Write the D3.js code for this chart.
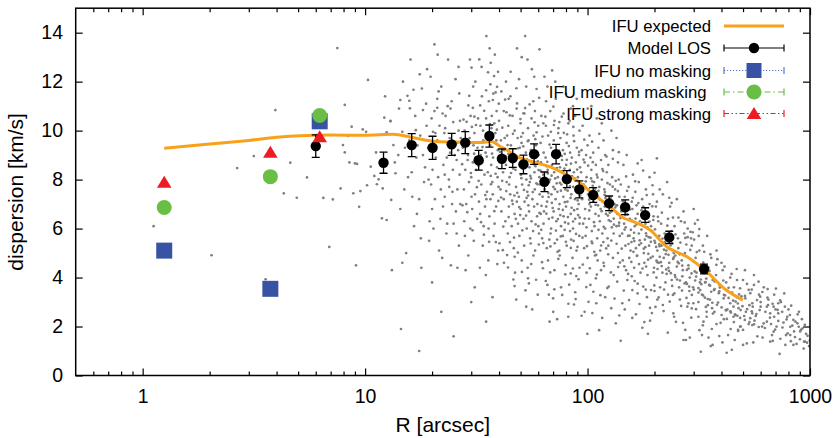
<!DOCTYPE html>
<html>
<head>
<meta charset="utf-8">
<script src="https://cdn.jsdelivr.net/npm/d3@7"></script>
<style>
  body { margin: 0; background: #fff; }
  text { font-family: "Liberation Sans", Arial, Helvetica, sans-serif; }
</style>
</head>
<body>
<div id="chart"></div>
<script>
var svgWidth = 839;
var svgHeight = 438;

var margin = { top: 8.2, right: 29, bottom: 62.5, left: 75.7 };
var width = svgWidth - margin.left - margin.right;
var height = svgHeight - margin.top - margin.bottom;

// IFU expected curve
var expectedR = [1.25, 2, 3, 4.15, 5.1, 7, 10, 13.4, 15.9, 18.5, 21.7, 27, 33, 37, 40.4, 43.4, 48, 56.9, 70, 80.7, 90, 105, 126, 146, 161, 191, 227, 280, 343, 420, 499];
var expectedS = [9.28, 9.45, 9.6, 9.74, 9.79, 9.82, 9.81, 9.85, 9.74, 9.62, 9.55, 9.53, 9.52, 9.56, 9.36, 9.21, 8.95, 8.72, 8.47, 8.19, 7.95, 7.44, 6.89, 6.42, 6.28, 5.94, 5.26, 4.85, 4.24, 3.49, 3.08];

// Model LOS points with errors
var losR = [6.0, 12.1, 16.2, 20.1, 24.5, 28.2, 32.4, 36.2, 41.2, 46.1, 51.5, 57.5, 64, 72.2, 80.7, 91.8, 106, 125, 147.6, 181.5, 233, 334];
var losS = [9.37, 8.69, 9.41, 9.30, 9.44, 9.51, 8.79, 9.78, 8.85, 8.88, 8.62, 9.04, 7.91, 9.04, 8.02, 7.60, 7.37, 7.03, 6.87, 6.55, 5.64, 4.35];
var losErr = [0.46, 0.43, 0.47, 0.47, 0.45, 0.45, 0.4, 0.45, 0.4, 0.38, 0.38, 0.42, 0.4, 0.4, 0.35, 0.35, 0.3, 0.3, 0.3, 0.3, 0.25, 0.2];

// IFU bins
var ifuR = [1.25, 3.75, 6.25];
var ifuNone = [5.10, 3.54, 10.38];
var ifuMedium = [6.86, 8.12, 10.62];
var ifuStrong = [7.89, 9.12, 9.75];

var xTicks = [1, 10, 100, 1000];
var xMinor = [0.6, 0.7, 0.8, 0.9, 2, 3, 4, 5, 6, 7, 8, 9, 20, 30, 40, 50, 60, 70, 80, 90, 200, 300, 400, 500, 600, 700, 800, 900];
var yTicks = [0, 2, 4, 6, 8, 10, 12, 14];

var legendLabels = ["IFU expected", "Model LOS", "IFU no masking", "IFU medium masking", "IFU strong masking"];

// individual stars (R, dispersion)
var stars = [
  [1.12,6.1],[2.04,4.91],[2.66,8.47],[3.16,8.96],[3.57,3.93],[3.95,10.84],[4.61,8.69],[5.48,8.09],[4.31,7.44],[4.93,7.26],
  [6.49,7.25],[7.16,7.19],[7.76,7.64],[8.85,7.44],[8.5,8.7],[9.0,8.66],[8.1,9.11],[6.9,5.25],[9.4,6.89],[8.7,10.16],
  [9.76,10.05],[10.1,9.95],[8.4,9.79],[7.95,9.41],[9.2,8.64],[9.52,7.53],[10.2,7.77],[11.3,7.81],[12.0,7.64],[10.6,8.53],
  [11.0,8.15],[11.5,8.01],[11.2,9.11],[7.5,13.37],[10.3,12.07],[12.3,11.4],[8.1,11.05],[9.1,4.5],[14.7,4.6],
  [14.5,1.9],[17.5,1.0],[22,2.6],[25,1.6],[30,3.0],[35,2.2],[20,3.8],[26,4.4],
  // R 12-18
  [12.2,10.53],[13.0,10.40],[14.7,9.95],[12.5,9.93],[13.0,10.38],[13.4,9.41],[14.1,9.0],[13.7,8.26],[13.1,7.17],[11.9,6.42],
  [12.5,6.35],[13.6,8.7],[15.5,11.42],[14.4,11.25],[15.8,11.22],[15.9,10.91],[16.5,11.67],[18.0,11.72],[18.2,10.84],[16.9,10.02],
  [15.8,9.6],[17.0,8.9],[16.2,8.3],[15.0,7.6],[17.5,7.2],[14.4,6.8],[16.6,6.1],[17.8,5.6],[15.3,5.0],[13.2,4.3],
  [17.2,9.4],[16.8,10.6],[14.8,12.0],[17.6,12.3],
  [14.2,10.9],[15.1,9.3],[15.6,8.1],[16.3,7.3],[17.1,6.6],[17.7,9.8],[18.4,7.9],[18.8,11.1],[19.5,6.3],[20.1,8.4],
  [20.7,9.9],[21.5,5.1],[22.3,10.7],[22.8,8.2],[23.4,6.2],[24.2,10.9],[24.7,7.5],[25.3,9.0],[25.8,5.8],[26.3,12.6],
  [26.9,9.7],[19.7,12.2],[16.0,12.9],[21.2,13.1],[17.9,4.4],
  // R 18-27
  [20.2,9.95],[24.9,10.35],[26.7,10.40],[20.5,13.52],[19.0,12.51],[21.1,11.30],[21.1,10.93],[26.5,11.52],[22.0,11.8],[23.5,11.0],
  [25.5,12.1],[20.5,10.8],[21.6,10.2],[23.0,10.6],[24.0,9.7],[19.2,9.3],[20.8,8.9],[22.5,8.6],[25.8,8.8],[18.6,8.5],
  [21.3,8.1],[23.8,8.0],[26.0,7.6],[19.8,7.8],[22.8,7.3],[24.6,7.0],[20.0,6.8],[21.8,6.4],[25.0,6.2],[23.2,5.8],
  [19.4,5.5],[26.4,5.3],[22.2,4.8],[24.3,4.5],[26.2,9.2],[22.7,9.9],[23.6,12.9],[18.9,10.2],[20.6,7.2],[24.8,8.4],
  [21.1,9.6],[19.9,10.5],[23.9,7.7],[25.6,6.7],[22.4,6.9],[26.8,7.0],[20.3,6.0],[24.1,9.1],[26.3,10.0],[21.9,7.6],
  [19.3,8.0],[23.3,8.9],[25.9,9.5],[22.9,10.1],[18.2,9.0],[21.4,11.6],[24.5,11.2],[26.6,8.2],
  // R 27-40
  [35.1,13.86],[36.3,13.36],[36.7,12.77],[30.1,12.57],[38.0,12.23],[39.2,11.79],[36.6,11.89],[35.0,11.65],[38.6,11.56],[37.5,11.25],
  [29.1,11.03],[30.5,10.93],[32.9,11.03],[28.6,10.36],[31.0,10.57],
  [28,10.0],[29.5,9.7],[31,9.9],[33,10.2],[35,10.5],[37,10.1],[39,10.8],[36,11.2],[27.5,9.3],[29,9.0],
  [30.5,8.7],[32,9.3],[34,9.6],[36.5,9.4],[38.5,9.9],[39.5,9.2],[28.2,8.4],[30,8.1],[31.6,8.4],[33.6,8.7],
  [35.6,8.3],[37.6,8.9],[39.2,8.5],[27.8,7.6],[29.3,7.9],[31.2,7.4],[33.3,7.8],[35.3,7.5],[37.3,7.9],[39.8,7.7],
  [28.5,7.0],[30.3,6.8],[32.5,7.1],[34.6,6.9],[36.6,7.2],[38.8,6.9],[27.9,6.3],[29.7,6.0],[31.9,6.4],[34.1,6.1],
  [36.2,6.5],[38.2,6.2],[30.8,5.5],[33.8,5.3],[37.8,5.7],[29.1,4.9],[35.8,4.7],[39.6,5.1],[32.8,4.4],[28.9,8.8],
  [30.7,9.4],[32.2,10.5],[34.8,9.1],[36.9,8.6],[38.9,9.6],[29.8,10.6],[33.9,10.0],[37.1,10.6],[39.9,11.1],[31.3,12.0],
  [35.1,7.2],[37.5,7.4],[39.4,8.1],[28.1,5.7],[33.1,9.0],[30.1,7.3],[36.3,9.9],[38.1,10.3],[34.4,8.2],[32.9,6.6],
  [31.4,8.9],[35.9,6.0],
  [27.3,8.63],[27.7,10.45],[28.4,9.52],[28.8,6.67],[29.4,11.42],[29.9,8.27],[30.4,5.93],[30.9,9.06],[31.5,10.23],[31.8,7.69],
  [32.3,8.57],[32.6,12.91],[33.2,6.26],[33.7,9.33],[34.3,10.81],[34.7,7.37],[35.2,8.94],[35.7,12.38],[36.1,5.46],[36.4,10.27],
  [36.8,7.81],[37.2,9.06],[37.7,11.51],[38.1,6.71],[38.6,8.24],[39.1,10.04],[39.7,7.13],[28.3,4.3],[31.1,3.6],[34.9,4.1],
  [37.4,3.2],[39.3,4.55],[30.6,11.8],[33.5,11.4],[38.3,13.1],[29.6,12.9],[35.5,9.75],[32.4,7.95],[36.7,8.15],[27.4,6.95],
  [38.7,5.45],[34.2,5.75],[30.2,10.15],[33.4,12.6],[39.6,12.4],
  // R 40-61
  [52.4,13.86],[48.2,13.36],[60.8,13.32],[50.6,13.0],[56.2,12.51],[44.2,11.30],[48.2,11.11],[51.5,10.71],
  [41,11.6],[45,11.4],[53,11.8],[57,11.2],[43,12.0],[59,11.7],
  [40,10.4],[42,10.8],[44,10.2],[46,10.6],[48,10.9],[50,10.3],[52,10.7],[54,10.1],[56,10.5],[58,10.8],[60,10.2],[47,10.0],
  [40.8,9.6],[42.3,9.2],[43.5,9.8],[45.2,9.4],[46.8,9.0],[48.5,9.7],[49.6,9.3],[51.2,9.9],[52.8,9.1],[54.3,9.6],
  [55.6,9.2],[57.2,9.8],[58.6,9.4],[60.3,9.0],[44.1,9.05],[50.5,9.5],
  [40.3,8.8],[41.7,8.3],[43.0,8.6],[44.6,8.1],[45.9,8.7],[47.4,8.4],[48.9,8.9],[50.2,8.2],[51.7,8.6],[53.1,8.0],
  [54.8,8.5],[56.2,8.9],[57.7,8.3],[59.1,8.7],[60.7,8.1],[42.9,8.95],[46.3,8.45],[52.3,8.75],[55.3,8.15],[58.3,8.55],
  [40.6,7.6],[42.0,7.2],[43.3,7.9],[44.9,7.4],[46.1,7.0],[47.7,7.7],[49.1,7.3],[50.8,7.8],[52.1,7.1],[53.6,7.5],
  [55.0,7.9],[56.5,7.2],[57.9,7.6],[59.5,7.0],[60.9,7.4],[41.3,7.95],[48.1,7.1],[54.1,7.35],[58.9,7.85],
  [41.0,6.7],[42.7,6.3],[44.3,6.9],[45.6,6.1],[47.0,6.6],[48.7,6.2],[50.0,6.8],[51.5,6.4],[53.3,6.0],[54.6,6.7],
  [56.0,6.3],[57.5,6.9],[59.3,6.5],[60.1,6.1],[49.8,6.55],
  [40.2,5.4],[43.8,5.8],[46.6,5.2],[49.4,5.7],[51.9,5.3],[55.2,5.6],[58.1,5.1],[60.5,5.8],[44.8,5.45],
  [42.1,4.6],[47.2,4.2],[50.6,4.7],[53.8,4.4],[57.1,4.9],[43.5,4.92],[47,4.85],
  [47,3.65],[54,3.97],[54.5,3.76],[59.7,3.3],[53,2.81],
  [40.4,9.13],[40.9,7.27],[41.4,10.12],[41.8,6.08],[42.2,8.76],[42.6,11.27],[43.1,7.53],[43.7,9.41],[44.2,6.47],[44.7,10.62],
  [45.3,8.27],[45.8,7.14],[46.2,9.87],[46.7,5.63],[47.3,8.91],[47.9,11.73],[48.3,7.46],[48.8,9.28],[49.3,6.88],[49.9,10.47],
  [50.4,8.06],[50.9,5.93],[51.4,9.36],[51.8,7.58],[52.4,10.92],[52.9,6.53],[53.4,8.83],[53.9,9.57],[54.4,7.77],[54.9,11.07],
  [55.5,5.39],[56.1,9.21],[56.7,7.49],[57.3,8.63],[57.8,10.34],[58.4,6.17],[59.0,9.93],[59.6,7.81],[60.2,8.39],[60.8,6.64],
  [41.6,5.12],[43.9,4.41],[46.4,3.92],[48.6,5.02],[50.7,4.23],[52.6,3.48],[55.8,4.55],[58.7,3.91],[45.1,12.4],[49.2,12.1],
  [53.7,12.9],[57.6,12.2],[42.4,9.7],[44.4,7.8],[47.6,6.4],[51.1,8.45],[54.2,6.95],[56.9,5.9],[59.8,8.75],[43.2,10.75],
  [46.9,7.35],[50.3,9.75],[53.2,7.25],[55.7,8.05],[58.2,9.65],[60.4,5.35],[47.8,3.1],[56.4,2.7],
  // R 61-93
  [69.3,12.46],[60.6,11.34],[70.2,10.98],[76.6,10.57],[63.3,10.3],[66,11.8],[72,11.3],[80,11.5],[86,11.0],[64,12.2],
  [62,10.6],[65,10.2],[68,10.8],[71,10.4],[74,10.1],[78,10.7],[82,10.3],[88,10.6],[92,10.0],[84,10.9],
  [61.5,9.5],[63.5,9.1],[66.5,9.8],[68.5,9.3],[70.5,9.6],[72.5,9.0],[75.5,9.7],[77.5,9.2],[80.5,9.5],[83.5,9.1],
  [86.5,9.8],[89.5,9.3],[91.5,9.0],[73.8,9.9],[79,9.05],
  [61.8,8.7],[63.2,8.2],[64.8,8.9],[66.2,8.4],[67.8,8.0],[69.2,8.6],[70.8,8.3],[72.2,8.9],[73.5,8.1],[75.2,8.5],
  [76.8,8.8],[78.5,8.2],[80.2,8.6],[81.8,8.0],[83.2,8.4],[85,8.9],[86.8,8.3],[88.6,8.7],[90.5,8.1],[92.5,8.5],
  [65.5,8.55],[71.5,8.05],[77.2,8.35],[84.2,8.65],
  [61.2,7.8],[62.8,7.3],[64.2,7.6],[65.8,7.1],[67.2,7.9],[68.8,7.4],[70.2,7.7],[71.8,7.2],[73.2,7.5],[74.8,7.0],
  [76.2,7.8],[77.8,7.3],[79.5,7.6],[81.2,7.1],[82.8,7.9],[84.5,7.4],[86.2,7.7],[87.8,7.2],[89.6,7.5],[91.2,7.0],
  [92.8,7.8],[66.6,7.45],[75.9,7.55],[83.9,7.25],
  [61.6,6.6],[63.4,6.2],[65.2,6.9],[67,6.4],[68.6,6.0],[70.4,6.7],[72.4,6.3],[74.2,6.8],[76,6.1],[78,6.5],
  [80,6.9],[82,6.2],[84,6.6],[86,6.0],[88,6.4],[90,6.8],[92,6.2],[69.5,6.45],[79.2,6.25],[87,6.75],
  [62.5,5.6],[65.6,5.2],[68.2,5.8],[71.2,5.4],[74.6,5.1],[77.4,5.7],[80.6,5.3],[83.4,5.9],[86.6,5.5],[89.2,5.1],
  [91.8,5.7],[73,5.55],
  [63,4.38],[66.4,4.7],[71,4.3],[75,4.9],[79.8,4.5],[84,4.17],[89,4.06],[85.6,4.8],[92,4.4],
  [66,3.7],[67,3.30],[70,3.15],[76,3.6],[88,3.4],[82,2.93],[67.5,2.2],[73,2.3],
  [61.4,8.37],[62.1,6.93],[62.7,9.76],[63.3,5.41],[63.9,7.84],[64.6,10.57],[65.3,6.61],[65.9,8.73],[66.8,7.29],[67.5,9.43],
  [68.1,5.27],[68.9,8.16],[69.7,6.84],[70.6,10.23],[71.3,7.61],[72.1,5.92],[72.8,8.47],[73.6,6.39],[74.4,9.18],[75.1,7.87],
  [75.8,5.68],[76.6,8.96],[77.4,6.76],[78.2,9.91],[79.1,7.08],[79.9,5.46],[80.7,8.81],[81.6,6.47],[82.4,9.37],[83.3,7.72],
  [84.1,5.21],[85.2,8.14],[86.1,6.29],[87.0,9.57],[87.9,7.96],[88.8,5.78],[89.8,8.41],[90.7,6.55],[91.6,9.13],[92.6,7.35],
  [62.4,4.63],[64.9,3.86],[67.9,4.21],[70.9,3.52],[73.9,4.76],[76.9,3.29],[79.4,4.13],[82.7,3.71],[85.9,4.37],[88.4,3.12],
  [91.1,3.93],[65.1,11.2],[71.6,12.0],[77.9,11.8],[83.1,10.4],[89.4,11.3],[63.7,6.7],[66.3,8.25],[69.1,7.05],[72.7,7.85],
  [75.4,6.55],[78.7,8.45],[81.4,7.55],[84.8,6.85],[87.4,8.05],[90.3,7.15],[92.2,6.45],[68.4,9.95],[74.7,10.35],[80.9,9.85],
  [86.3,10.15],[61.9,5.95],[67.3,5.55],[73.3,5.05],[78.9,5.95],[84.4,5.55],[90.1,5.25],[70.1,2.6],[81.9,2.4],[86.9,2.9],
  // R 93-140
  [95,10.2],[102,9.8],[110,10.5],[118,9.6],[128,10.0],[104,11.0],[135,9.7],
  [94,9.2],[97,8.7],[100,9.4],[103,8.9],[106,9.1],[109,8.6],[112,9.3],[115,8.8],[120,9.0],[124,8.6],
  [130,9.2],[137,8.7],[98.5,9.0],
  [93.5,8.3],[96,7.8],[99,8.1],[101,7.6],[104,8.4],[107,7.9],[110,8.2],[113,7.7],[116,8.0],[119,7.6],
  [122,8.3],[126,7.8],[129,8.1],[133,7.6],[138,8.0],[105.5,7.75],[117.5,8.35],
  [94.5,7.2],[97.5,6.8],[100.5,7.4],[103.5,6.9],[106.5,7.1],[108.5,6.6],[111.5,7.3],[114.5,6.8],[117,7.1],[121,6.6],
  [125,7.2],[128,6.7],[132,7.0],[136,6.6],[139,7.3],[102,7.0],[119.5,6.9],
  [95.5,6.2],[98,5.7],[101.5,6.4],[104.5,5.9],[107.5,6.1],[110.5,5.6],[113.5,6.3],[116.5,5.8],[120,6.0],[123,5.6],
  [127,6.3],[131,5.8],[135,6.1],[139.5,5.7],[112,5.95],
  [96.5,5.2],[100,4.8],[105,5.4],[108,4.9],[114,5.1],[118,4.6],[124,5.3],[130,4.8],[137,5.0],[111,4.7],
  [99,4.2],[109,3.97],[124.5,3.63],[136,3.83],[115,4.3],[103,3.7],[131,4.1],
  [101,3.01],[109.5,2.95],[97,2.6],[94,2.44],[134,2.13],[120,3.2],[141,1.42],
  [93.8,7.47],[94.9,5.63],[95.9,8.82],[97.1,6.41],[98.2,7.93],[99.4,5.28],[100.6,8.57],[101.8,6.74],[103.1,7.36],[104.3,5.47],
  [105.6,8.71],[106.9,6.26],[108.1,7.63],[109.4,4.93],[110.8,8.09],[112.2,6.52],[113.6,7.18],[115.1,5.31],[116.6,8.43],[118.2,6.07],
  [119.7,7.49],[121.3,5.19],[122.9,7.86],[124.6,6.34],[126.2,7.04],[127.9,5.51],[129.7,7.71],[131.4,6.16],[133.2,6.86],[135.1,5.38],
  [136.9,7.53],[138.7,6.24],[139.8,4.61],[95.2,4.53],[98.7,3.61],[102.4,4.38],[106.2,3.42],[110.1,4.12],[114.2,3.28],[118.6,4.47],
  [122.7,3.57],[127.3,4.21],[132.2,3.14],[137.3,4.43],[96.7,9.63],[104.8,9.55],[112.9,9.87],[121.7,8.94],[129.9,8.85],[138.2,9.12],
  [100.2,10.9],[115.9,10.3],[108.8,7.35],[117.8,5.45],[125.8,6.65],[133.8,7.95],[98.9,6.05],[103.7,8.05],[111.4,6.95],[120.4,7.25],
  [128.6,6.05],[135.7,6.95],[107.2,5.05],[123.8,4.95],[105.1,2.55],[116.3,2.35],[127.8,2.75],[138.9,2.45],[112.7,1.85],[99.8,1.7],
  // R 140-212
  [145,8.6],[160,8.2],[168,8.66],[175,8.8],[190,8.1],[150,9.0],[200,8.28],[205,8.87],
  [141,7.8],[147,7.3],[153,7.7],[158,7.1],[164,7.5],[170,7.9],[176,7.2],[183,7.6],[190,7.0],[197,7.4],[205,7.1],[211,7.6],
  [142,6.7],[146,6.2],[150,6.9],[155,6.4],[159,6.8],[163,6.1],[168,6.6],[172,6.3],[178,6.9],[182,6.2],
  [187,6.6],[193,6.1],[198,6.5],[203,6.9],[208,6.3],[166,6.95],
  [143,5.8],[148,5.3],[152,5.7],[156,5.1],[161,5.6],[165,5.2],[170,5.8],[174,5.4],[179,5.0],[184,5.7],
  [189,5.3],[195,5.9],[200,5.5],[206,5.1],[210,5.7],[157.5,5.45],[181,5.55],
  [144,4.7],[149,4.3],[154,4.8],[162,4.4],[167,4.9],[173,4.2],[180,4.6],[186,4.1],[192,4.8],[199,4.4],
  [204,4.0],[209,4.6],[158,4.05],
  [159,3.49],[178,3.63],[193,3.49],[200,3.45],[212,3.6],[151,3.9],[185,3.2],[168,3.75],[206,3.1],
  [180,2.18],[191,2.24],[147,2.7],[165,2.5],[202,2.8],
  [140.6,6.43],[142.4,5.18],[144.2,7.12],[146.3,4.46],[148.4,6.05],[150.6,7.54],[152.8,5.37],[155.1,6.78],[157.3,4.64],[159.6,7.26],
  [161.9,5.83],[164.3,6.41],[166.7,4.88],[169.1,7.04],[171.6,5.52],[174.1,6.17],[176.6,4.37],[179.2,6.63],[181.8,5.24],[184.4,7.37],
  [187.1,4.73],[189.8,6.29],[192.6,5.46],[195.4,6.91],[198.2,4.21],[201.1,5.97],[204.1,4.69],[207.1,6.48],[210.1,5.36],[145.5,3.47],
  [153.7,3.08],[162.8,3.86],[171.2,2.92],[182.6,3.51],[190.9,2.76],[199.6,3.68],[208.7,3.19],[149.1,8.13],[163.7,7.93],[177.8,8.37],
  [195.9,7.77],[156.6,5.95],[170.4,4.55],[185.7,6.05],[203.3,5.25],[147.6,6.55],[160.7,5.05],[174.8,6.75],[188.4,5.65],[206.4,4.35],
  [152.1,4.15],[167.9,3.35],[183.3,4.45],[197.5,6.35],[211.2,4.85],[158.9,2.35],[176.3,1.95],[194.7,2.55],[143.3,2.95],[186.8,1.7],
  // R 212-321
  [218,7.4],[233,7.26],[235,6.9],[252,7.2],[270,6.7],[300,6.8],[228,7.9],[318,5.98],[290,5.87],
  [214,6.2],[222,5.8],[230,6.4],[238,5.9],[246,6.1],[255,5.6],[263,6.3],[272,5.8],[282,6.0],[292,5.6],[304,6.2],[316,5.7],
  [215,5.3],[220,4.8],[226,5.1],[233,4.6],[240,5.4],[248,4.9],[256,5.2],[265,4.7],[274,5.0],[284,4.5],
  [294,5.3],[306,4.8],[318,5.1],[244,5.0],[278,5.35],
  [217,4.2],[224,3.8],[231,4.4],[239,3.9],[247,4.1],[258,3.6],[268,4.3],[277,3.8],[288,4.0],[298,3.6],
  [309,4.2],[320,3.8],[252,4.45],
  [218,2.88],[243,2.54],[242,3.29],[281,2.81],[321,3.49],[299,2.95],[294,2.74],[284,2.95],[260,3.1],[230,3.3],[315,3.0],
  [270,1.45],[275,1.86],[277,1.45],[245,2.4],[315,2.4],
  [213.6,4.63],[217.2,5.59],[220.9,3.51],[224.6,4.96],[228.4,6.12],[232.3,4.27],[236.2,5.31],[240.2,3.66],[244.3,4.82],[248.5,5.76],
  [252.7,3.92],[257.1,4.58],[261.5,5.43],[265.9,3.47],[270.5,4.91],[275.1,5.62],[279.8,3.74],[284.6,4.37],[289.5,5.13],[294.4,3.29],
  [299.5,4.66],[304.6,3.88],[309.8,5.04],[315.1,3.57],[319.6,4.49],[219.7,2.63],[234.1,3.02],[249.6,2.19],[263.4,2.84],[278.4,3.17],
  [292.6,2.36],[307.4,2.71],[215.8,6.65],[238.7,7.05],[256.2,6.45],[273.3,6.25],[296.8,5.85],[312.7,6.35],[226.7,4.15],[245.6,3.35],
  [266.8,4.05],[286.9,3.45],[303.2,4.25],[222.3,5.45],[242.1,6.45],[259.4,4.95],[281.7,5.65],[301.3,5.55],[229.5,1.75],[268.7,2.15],
  [288.2,1.55],[318.4,1.85],
  // R 321-485
  [330,5.3],[360,4.8],[345,5.7],[400,4.6],[380,5.1],
  [325,4.2],[338,3.8],[350,4.4],[365,3.9],[378,4.1],[392,3.7],[405,4.3],[420,3.8],[438,4.0],[455,3.6],
  [470,3.9],[352,3.7],[370,3.49],
  [327,3.3],[340,2.8],[355,3.1],[372,2.6],[389,3.36],[409,3.15],[425,2.7],[438,2.95],[453,2.81],[470,3.2],
  [485,3.56],[343,2.6],[418,2.67],[460,2.5],
  [332,2.2],[343,2.4],[362,1.9],[380,2.1],[391,1.61],[410,2.3],[440,1.9],[475,1.86],[485,2.0],[453,2.4],[327,1.65],
  [323,0.97],[358,1.2],[365,1.25],[422,0.93],
  [324.6,3.73],[331.2,4.61],[336.9,3.18],[341.8,3.96],[347.5,2.87],[353.4,4.27],[359.6,3.42],[366.1,2.53],[372.8,3.84],[379.3,4.52],
  [386.1,2.98],[393.2,3.59],[400.4,2.47],[407.7,3.88],[415.2,3.27],[422.9,2.31],[430.4,3.58],[438.6,2.62],[446.4,3.39],[454.8,2.18],
  [463.1,3.02],[471.6,2.44],[480.2,3.31],[334.4,5.05],[356.7,4.95],[383.6,4.75],[412.8,4.45],[443.8,4.15],[468.2,4.35],[329.7,2.05],
  [362.9,2.75],[396.4,2.15],[428.3,1.65],[458.7,1.45],[477.3,2.75],[349.8,1.55],[403.9,1.35],[445.2,1.05],
  // R 485-1000
  [500,3.9],[530,3.5],[560,3.7],[590,3.3],[620,3.6],[650,3.1],[690,3.3],[720,2.95],[510,3.25],[539,3.36],
  [597,3.22],[550,2.95],[648,2.88],[600,2.81],[630,2.6],[662,2.54],[690,2.4],[570,2.43],[515,2.6],[488,2.67],
  [550,2.54],[512,3.15],[553,2.81],[640,2.81],[686,2.81],[720,2.54],[539,2.34],[619,2.13],[550,2.06],[609,2.0],
  [707,2.0],[488,2.0],[720,2.23],[686,1.79],[675,1.65],[662,1.38],[680,1.41],[520,1.31],[500,1.25],[475,1.82],
  [500,1.86],[730,0.88],[580,1.6],[640,2.2],[700,2.7],[600,3.0],[530,2.1],[560,4.1],[510,4.3],
  [492,3.23],[506,2.43],[521,3.74],[534,2.87],[547,3.51],[563,2.24],[578,3.08],[594,2.67],[611,3.41],[627,1.94],
  [644,3.18],[661,2.36],[679,2.93],[697,1.87],[715,2.68],[734,3.07],[752,1.96],[771,2.81],[793,1.72],[812,2.47],
  [833,2.04],[856,1.57],[878,2.13],[901,1.48],[924,1.92],[948,2.07],[975,1.62],[998,1.43],[587,3.83],[645,3.53],
  [703,3.55],[766,3.35],[823,2.85],[892,2.6],[556,1.35],[612,1.55],[668,2.1],[736,1.5],[848,1.8],[937,1.1],
  [760,2.16],[785,2.29],[815,1.99],[860,2.2],[890,1.99],[910,1.86],[842,2.27],[790,2.40],[903,1.8],[950,1.38],
  [815,1.65],[775,1.25],[842,1.25],[870,1.29],[940,1.38],[970,1.34],[780,1.65],[750,2.6],[800,2.7],[880,2.5],
  [960,1.7],[990,1.2],[920,2.3],[740,3.0],[820,1.4],
  // dense band close to the expected curve
  [97.3,7.72],[101.6,7.18],[104.9,7.93],[108.6,6.97],[111.9,7.54],[115.7,6.71],[119.2,7.38],[123.4,6.53],[126.9,7.26],[131.1,6.41],
  [134.6,6.95],[138.4,6.12],[142.1,6.74],[146.8,5.96],[150.9,6.58],[154.4,5.71],[158.2,6.33],[162.3,5.49],[166.1,6.17],[170.6,5.33],
  [174.7,5.96],[178.9,5.18],[183.1,5.81],[187.6,4.97],[191.8,5.63],[196.3,4.86],[201.2,5.42],[205.8,4.63],[210.7,5.28],[215.4,4.47],
  [220.6,5.14],[225.7,4.33],[231.1,4.93],[236.8,4.18],[242.4,4.76],[248.1,4.02],[254.2,4.64],[260.3,3.88],[266.6,4.49],[273.1,3.76],
  [279.7,4.31],[286.4,3.63],[293.3,4.17],[300.4,3.51],[307.7,4.04],[315.2,3.39],[322.8,3.92],[330.6,3.27],[338.7,3.81],[346.9,3.12],
  [355.3,3.67],[363.9,2.97],[372.7,3.53],[381.8,2.89],[391.1,3.44],[400.6,2.78],[410.3,3.29],[420.2,2.66],[430.5,3.17],[440.9,2.57],
  [451.6,3.06],[462.6,2.46],[473.8,2.94],[485.3,2.35],[497.1,2.83],[509.2,2.27],[521.6,2.71],[534.3,2.18],[547.2,2.62],[560.5,2.09],
  [574.1,2.51],[588.1,1.98]
];

var orange = "#f9a11b";
var blue = "#3953a4";
var green = "#6abd45";
var red = "#ed1c24";

var svg = d3.select("#chart").append("svg")
  .attr("width", svgWidth)
  .attr("height", svgHeight);

var chartGroup = svg.append("g")
  .attr("transform", `translate(${margin.left}, ${margin.top})`);

var xScale = d3.scaleLog().domain([0.5, 1000]).range([0, width]);
var yScale = d3.scaleLinear().domain([0, 15]).range([height, 0]);

// axes (ticks drawn inward on all four sides)
function styleAxis(g) {
  g.select(".domain").remove();
  g.selectAll(".tick line").attr("stroke", "#000").attr("stroke-width", 1.2);
  g.selectAll("text").attr("font-size", "19.5px").attr("fill", "#000");
}

chartGroup.append("g")
  .attr("transform", `translate(0, ${height})`)
  .call(d3.axisBottom(xScale).tickValues(xTicks).tickSize(-7).tickPadding(13.7).tickFormat(d3.format("d")))
  .call(styleAxis);
chartGroup.append("g")
  .attr("transform", `translate(0, ${height})`)
  .call(d3.axisBottom(xScale).tickValues(xMinor).tickSize(-4).tickFormat(""))
  .call(styleAxis);
chartGroup.append("g")
  .call(d3.axisTop(xScale).tickValues(xTicks).tickSize(-7).tickFormat(""))
  .call(styleAxis);
chartGroup.append("g")
  .call(d3.axisTop(xScale).tickValues(xMinor).tickSize(-4).tickFormat(""))
  .call(styleAxis);
chartGroup.append("g")
  .call(d3.axisLeft(yScale).tickValues(yTicks).tickSize(-7).tickPadding(12.7))
  .call(styleAxis);
chartGroup.append("g")
  .attr("transform", `translate(${width}, 0)`)
  .call(d3.axisRight(yScale).tickValues(yTicks).tickSize(-7).tickFormat(""))
  .call(styleAxis);

// axis titles
svg.append("text")
  .attr("x", margin.left + width / 2)
  .attr("y", 432)
  .attr("text-anchor", "middle")
  .attr("font-size", "21px")
  .text("R [arcsec]");

svg.append("text")
  .attr("transform", `translate(23, ${margin.top + height / 2}) rotate(-90)`)
  .attr("text-anchor", "middle")
  .attr("font-size", "21px")
  .text("dispersion [km/s]");

// clip to the plot frame
svg.append("defs").append("clipPath").attr("id", "clip")
  .append("rect").attr("width", width).attr("height", height);
var plot = chartGroup.append("g").attr("clip-path", "url(#clip)");

// star cloud
plot.selectAll(".star")
  .data(stars)
  .enter()
  .append("circle")
  .attr("cx", d => xScale(d[0]))
  .attr("cy", d => yScale(d[1]))
  .attr("r", 1.35)
  .attr("fill", "#7f7f7f");

// IFU expected line
var expected = expectedR.map((r, i) => [r, expectedS[i]]);
plot.append("path")
  .datum(expected)
  .attr("fill", "none")
  .attr("stroke", orange)
  .attr("stroke-width", 3)
  .attr("d", d3.line().x(d => xScale(d[0])).y(d => yScale(d[1])).curve(d3.curveMonotoneX));

// Model LOS with error bars
var los = losR.map((r, i) => ({ r: r, s: losS[i], e: losErr[i] }));
var losGroup = plot.selectAll(".los")
  .data(los)
  .enter()
  .append("g");
losGroup.append("line")
  .attr("x1", d => xScale(d.r)).attr("x2", d => xScale(d.r))
  .attr("y1", d => yScale(d.s - d.e)).attr("y2", d => yScale(d.s + d.e))
  .attr("stroke", "#000").attr("stroke-width", 1.3);
losGroup.append("line")
  .attr("x1", d => xScale(d.r) - 4).attr("x2", d => xScale(d.r) + 4)
  .attr("y1", d => yScale(d.s - d.e)).attr("y2", d => yScale(d.s - d.e))
  .attr("stroke", "#000").attr("stroke-width", 1.3);
losGroup.append("line")
  .attr("x1", d => xScale(d.r) - 4).attr("x2", d => xScale(d.r) + 4)
  .attr("y1", d => yScale(d.s + d.e)).attr("y2", d => yScale(d.s + d.e))
  .attr("stroke", "#000").attr("stroke-width", 1.3);
losGroup.append("circle")
  .attr("cx", d => xScale(d.r))
  .attr("cy", d => yScale(d.s))
  .attr("r", 5.2)
  .attr("fill", "#000");

var trianglePath = "M0,-6.5L7.3,5.5L-7.3,5.5Z";

plot.selectAll(".ifuNone")
  .data(ifuR)
  .enter()
  .append("rect")
  .attr("x", (d, i) => xScale(d) - 8)
  .attr("y", (d, i) => yScale(ifuNone[i]) - 8)
  .attr("width", 16).attr("height", 16)
  .attr("fill", blue);

plot.selectAll(".ifuMedium")
  .data(ifuR)
  .enter()
  .append("circle")
  .attr("cx", d => xScale(d))
  .attr("cy", (d, i) => yScale(ifuMedium[i]))
  .attr("r", 7.5)
  .attr("fill", green);

plot.selectAll(".ifuStrong")
  .data(ifuR)
  .enter()
  .append("path")
  .attr("transform", (d, i) => `translate(${xScale(d)}, ${yScale(ifuStrong[i])})`)
  .attr("d", trianglePath)
  .attr("fill", red);

// frame
chartGroup.append("rect")
  .attr("width", width).attr("height", height)
  .attr("fill", "none").attr("stroke", "#000").attr("stroke-width", 1.5);

// legend
var legend = svg.append("g");
var rowY = [26, 48, 70.5, 92, 113.5];
var textX = [711, 711, 711, 706.5, 711];
var x0 = 724, x1 = 784, xm = 754;

legendLabels.forEach(function(label, i) {
  legend.append("text")
    .attr("x", textX[i])
    .attr("y", rowY[i] + 6)
    .attr("text-anchor", "end")
    .attr("font-size", "16.7px")
    .text(label);
});

legend.append("line")
  .attr("x1", x0).attr("x2", x1).attr("y1", rowY[0]).attr("y2", rowY[0])
  .attr("stroke", orange).attr("stroke-width", 3);

var legendStyles = [
  { color: "#000", dash: null, y: rowY[1] },
  { color: "#5a77c9", dash: "1.2,1.8", y: rowY[2] },
  { color: green, dash: "6,3,1.5,3", y: rowY[3] },
  { color: red, dash: "5,2.5,1.5,2.5,1.5,2.5", y: rowY[4] }
];
legendStyles.forEach(function(st) {
  legend.append("line")
    .attr("x1", x0).attr("x2", x1).attr("y1", st.y).attr("y2", st.y)
    .attr("stroke", st.color).attr("stroke-width", 1.2)
    .attr("stroke-dasharray", st.dash);
  [x0, x1].forEach(function(cx) {
    legend.append("line")
      .attr("x1", cx).attr("x2", cx).attr("y1", st.y - 3.5).attr("y2", st.y + 3.5)
      .attr("stroke", st.color).attr("stroke-width", 1.2);
  });
});

legend.append("circle").attr("cx", xm).attr("cy", rowY[1]).attr("r", 5.2).attr("fill", "#000");
legend.append("rect").attr("x", xm - 7.5).attr("y", rowY[2] - 7.5).attr("width", 15).attr("height", 15).attr("fill", blue);
legend.append("circle").attr("cx", xm).attr("cy", rowY[3]).attr("r", 7.5).attr("fill", green);
legend.append("path").attr("transform", `translate(${xm}, ${rowY[4]})`).attr("d", trianglePath).attr("fill", red);
</script>
</body>
</html>
